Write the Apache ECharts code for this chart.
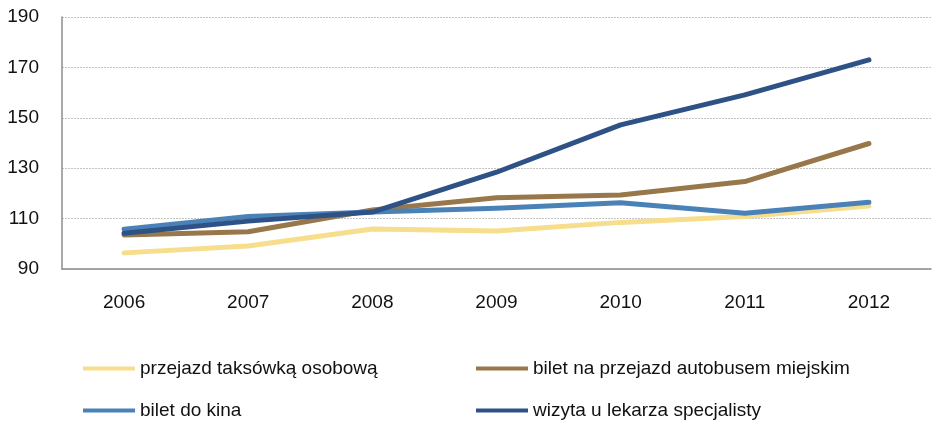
<!DOCTYPE html>
<html><head><meta charset="utf-8">
<script src="https://cdn.jsdelivr.net/npm/echarts@6/dist/echarts.min.js"></script>
<style>html,body{margin:0;padding:0;background:#fff}#c{width:932px;height:421px}</style>
</head><body><div id="c"></div>
<script>
const years = ['2006','2007','2008','2009','2010','2011','2012'];
const taxi = [96.4, 99.1, 105.9, 105.1, 108.5, 110.8, 115.0];
const bus = [103.5, 104.8, 113.4, 118.3, 119.4, 124.7, 139.8];
const cinema = [105.8, 110.8, 112.6, 114.1, 116.3, 112.1, 116.5];
const doctor = [104.2, 109.0, 112.6, 128.4, 147.2, 159.1, 173.0];
const names = ['przejazd taksówką osobową','bilet na przejazd autobusem miejskim','bilet do kina','wizyta u lekarza specjalisty'];
const colors = ['#F6DE8C','#98784A','#4A82B8','#2E5286'];
const yTicks = {min: 90, max: 190, interval: 20};
const FONT = 'Liberation Sans';
const chart = echarts.init(document.getElementById('c'), null, {renderer:'canvas'});
const dataArr = [taxi, bus, cinema, doctor];
const legendPos = [[83,359],[476,359],[83,401],[476,401]];
chart.setOption({
  animation:false,
  textStyle:{fontFamily:FONT},
  grid:{left:62,right:1,top:17,bottom:152},
  legend: names.map((n,i)=>({
    data:[n], left:legendPos[i][0], top:legendPos[i][1], padding:0,
    icon:'rect', itemWidth:52, itemHeight:4, itemGap:0,
    textStyle:{fontFamily:FONT,fontSize:19,color:'#111'}
  })),
  xAxis:{type:'category',data:years,boundaryGap:true,
    axisLine:{lineStyle:{color:'#8c8c8c',width:1.5}},axisTick:{show:false},
    axisLabel:{fontFamily:FONT,fontSize:19,color:'#111',margin:24}},
  yAxis:{type:'value',min:yTicks.min,max:yTicks.max,interval:yTicks.interval,
    axisLine:{show:true,lineStyle:{color:'#8c8c8c',width:1.5}},axisTick:{show:false},
    splitLine:{lineStyle:{color:'#c4c4c4',type:[2,1],width:1}},
    axisLabel:{fontFamily:FONT,fontSize:19,color:'#111',margin:23}},
  series: names.map((n,i)=>({
    name:n,type:'line',data:dataArr[i],symbol:'none',
    lineStyle:{width:5,color:colors[i],cap:'round',join:'round'},
    itemStyle:{color:colors[i]}
  }))
});
</script></body></html>
